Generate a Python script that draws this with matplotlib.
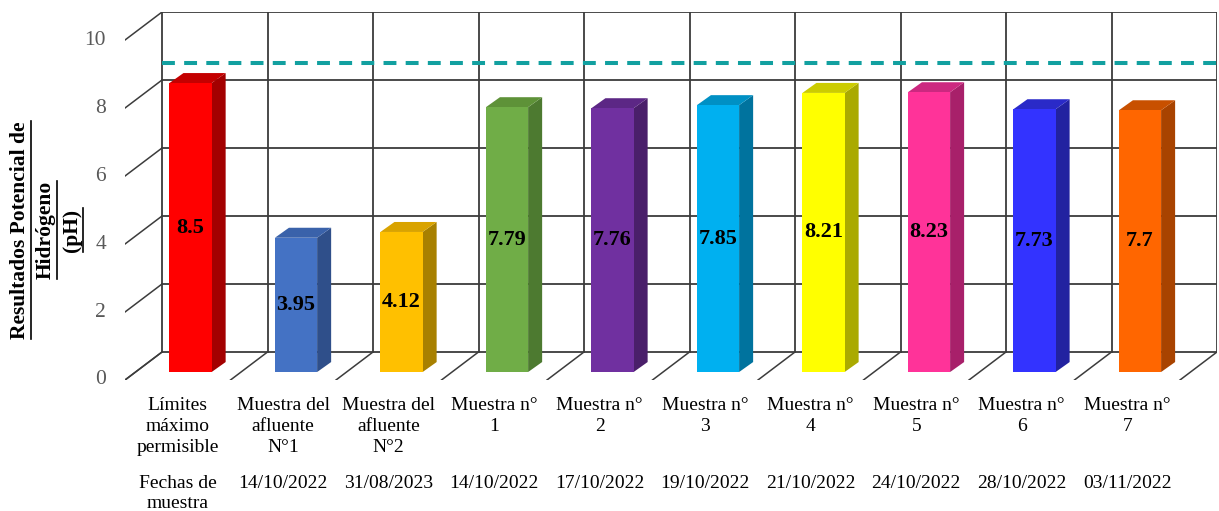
import numpy as np
import matplotlib
matplotlib.use("Agg")
import matplotlib.pyplot as plt
from matplotlib.patches import Polygon, Rectangle
from matplotlib.lines import Line2D

plt.rcParams['font.family'] = ['Liberation Serif', 'DejaVu Serif']

# Datos de pH por muestra
categorias = ["Límites\nmáximo\npermisible", "Muestra del\nafluente\nN°1",
              "Muestra del\nafluente\nN°2", "Muestra n°\n1", "Muestra n°\n2",
              "Muestra n°\n3", "Muestra n°\n4", "Muestra n°\n5",
              "Muestra n°\n6", "Muestra n°\n7"]
fechas = ["Fechas de\nmuestra", "14/10/2022", "31/08/2023", "14/10/2022",
          "17/10/2022", "19/10/2022", "21/10/2022", "24/10/2022",
          "28/10/2022", "03/11/2022"]
valores_ph = [8.5, 3.95, 4.12, 7.79, 7.76, 7.85, 8.21, 8.23, 7.73, 7.7]
limite_ph = 8.5
ticks_y = [0, 2, 4, 6, 8, 10]

# Colores: cara frontal, lateral y superior de cada barra
colores = [("#FF0000", "#A30000", "#C40000"),
           ("#4472C4", "#2F4F8A", "#3A62AA"),
           ("#FFC000", "#A88000", "#D9A300"),
           ("#70AD47", "#4D7A30", "#5E9238"),
           ("#7030A0", "#4A1F6A", "#5C2785"),
           ("#00B0F0", "#00739E", "#0090C4"),
           ("#FFFF00", "#AAAA00", "#CCCC00"),
           ("#FF3399", "#A8206A", "#CC2880"),
           ("#3333FF", "#2222A0", "#2A2AC8"),
           ("#FF6600", "#A84300", "#C85000")]

# Perspectiva oblicua tipo Excel (en unidades de datos)
DX, DY = 0.351, 0.824        # profundidad total del piso
BX0, BW = 0.07, 0.40         # inicio y ancho de la cara frontal
BY0 = -0.59                  # base de la barra
PX, PY = 0.133, 0.294        # profundidad de la barra

fig = plt.figure(figsize=(12.19, 5.11), dpi=100)
ax = fig.add_axes([125 / 1219, 1 - 380 / 511, (1217 - 125) / 1219, (380 - 12) / 511])
ax.set_xlim(-DX, len(valores_ph))
ax.set_ylim(-DY, 10)
ax.axis("off")

n = len(valores_ph)
gris = "#3c3c3c"

# Pared del fondo: cuadrícula
for v in ticks_y:
    ax.plot([0, n], [v, v], color=gris, lw=1.3, zorder=1)
    ax.plot([-DX, 0], [v - DY, v], color=gris, lw=1.1, zorder=1)
    ax.text(-DX - 0.18, v - DY, str(v), ha="right", va="center",
            fontsize=15.5, color="#595959")
for k in range(n + 1):
    ax.plot([k, k], [0, 10], color=gris, lw=1.3, zorder=1)
    ax.plot([k - DX, k], [-DY, 0], color=gris, lw=1.1, zorder=1)

# Línea del límite máximo permisible
ax.plot([0, n], [limite_ph, limite_ph], color="#12A0A0", lw=2.9,
        dashes=(3.2, 2.3), zorder=2)

# Barras 3D
for i, v in enumerate(valores_ph):
    frente, lado, arriba = colores[i]
    x0, x1 = i + BX0, i + BX0 + BW
    y0, y1 = BY0, BY0 + v
    ax.add_patch(Polygon([(x1, y0), (x1 + PX, y0 + PY), (x1 + PX, y1 + PY), (x1, y1)],
                         closed=True, facecolor=lado, edgecolor="none", zorder=3))
    ax.add_patch(Polygon([(x0, y1), (x1, y1), (x1 + PX, y1 + PY), (x0 + PX, y1 + PY)],
                         closed=True, facecolor=arriba, edgecolor="none", zorder=3))
    ax.add_patch(Rectangle((x0, y0), BW, v, facecolor=frente, edgecolor="none", zorder=4))
    ax.text(i + BX0 + BW / 2, y0 + v / 2, f"{v:g}", ha="center", va="center",
            fontsize=16, fontweight="bold", color="black", zorder=5)

# Etiquetas de categorías y fechas
for i in range(n):
    ax.text(i + 0.5 - DX, -1.32, categorias[i], ha="center", va="top",
            fontsize=14, linespacing=1.32, clip_on=False)
    ax.text(i + 0.5 - DX, -3.62, fechas[i], ha="center", va="top",
            fontsize=14, linespacing=1.2, clip_on=False)

# Título del eje Y, subrayado
lineas_y = ["Resultados Potencial de", "Hidrógeno", "(pH)"]
xs_y = [20, 46, 72]
textos = []
for t, xp in zip(lineas_y, xs_y):
    textos.append(fig.text(xp / 1219, 1 - 230 / 511, t, rotation=90,
                           ha="center", va="center", fontsize=15.5,
                           fontweight="bold"))

fig.canvas.draw()
r = fig.canvas.get_renderer()
for t in textos:
    bb = t.get_window_extent(r)
    xl = (bb.x1 + 1.0) / fig.bbox.width
    fig.add_artist(Line2D([xl, xl], [bb.y0 / fig.bbox.height, bb.y1 / fig.bbox.height],
                          transform=fig.transFigure, color="black", lw=1.2))

fig.savefig("out.png", dpi=100)
